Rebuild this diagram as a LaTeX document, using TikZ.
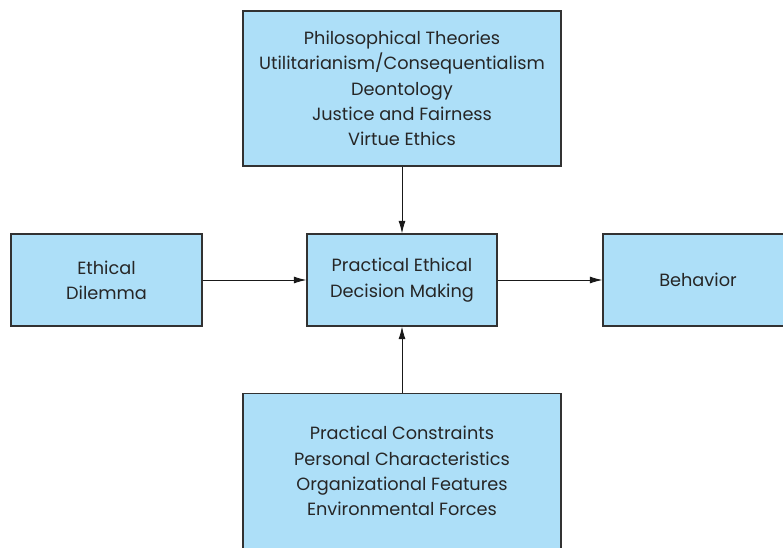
\documentclass[tikz,border=0pt]{standalone}
\usepackage{fontspec}
\setmainfont{Poppins}
\usepackage{xcolor}
\usetikzlibrary{arrows.meta,positioning}

\definecolor{boxblue}{RGB}{173,223,248}
\definecolor{boxline}{RGB}{50,50,50}

\begin{document}
\begin{tikzpicture}[x=0.025cm, y=-0.025cm,
box/.style={rectangle, draw=boxline, line width=0.8pt, fill=boxblue, font=\fontsize{12.6}{18}\selectfont, align=center, text=black!85},
arrow/.style={-{Latex[length=9pt, width=5pt]}, line width=0.6pt, black!90}
]
\useasboundingbox (0,0) rectangle (783,547);
\clip (0,0) rectangle (783,547);

% Theories on top
\node[box, minimum width=7.95cm, minimum height=3.875cm] (theories) at (402,88.5) {Philosophical Theories\\Utilitarianism/Consequentialism\\Deontology\\Justice and Fairness\\Virtue Ethics};

% Middle row
\node[box, minimum width=4.775cm, minimum height=2.3cm] (dilemma) at (106.5,280) {Ethical\\Dilemma};
\node[box, minimum width=4.75cm, minimum height=2.3cm] (decision) at (402,280) {Practical Ethical\\Decision Making};
\node[box, minimum width=4.75cm, minimum height=2.3cm] (behavior) at (698,280) {Behavior};

% Constraints below
\node[box, minimum width=7.95cm, minimum height=3.875cm] (constraints) at (402,471) {Practical Constraints\\Personal Characteristics\\Organizational Features\\Environmental Forces};

% Arrows
\draw[arrow] (theories) -- (decision);
\draw[arrow] (dilemma) -- (decision);
\draw[arrow] (decision) -- (behavior);
\draw[arrow] (constraints) -- (decision);

\end{tikzpicture}
\end{document}
